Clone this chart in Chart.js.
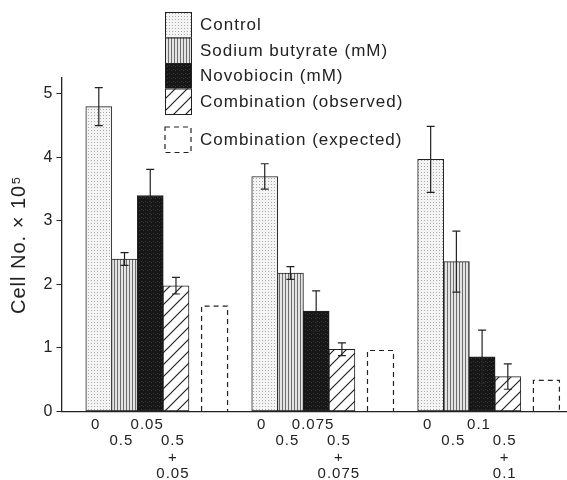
<!DOCTYPE html>
<html>
<head>
<meta charset="utf-8">
<script src="https://cdn.jsdelivr.net/npm/chart.js@4.4.0/dist/chart.umd.min.js"></script>
<style>
	html, body { margin: 0; padding: 0; background: #fff; }
	canvas { display: block; }
</style>
</head>
<body>
<canvas id="chart" width="567" height="480"></canvas>
<script>
// Novobiocin dose per group (mM); butyrate is 0.5 mM throughout
const novobiocinDoses = ['0.05', '0.075', '0.1'];
const butyrateDose = '0.5';
const seriesNames = ['Control', 'Sodium butyrate (mM)', 'Novobiocin (mM)', 'Combination (observed)', 'Combination (expected)'];

const controlValues = [4.8, 3.7, 3.97];
const controlErrors = [0.3, 0.2, 0.52];
const butyrateValues = [2.4, 2.18, 2.36];
const butyrateErrors = [0.1, 0.1, 0.48];
const novobiocinValues = [3.4, 1.58, 0.86];
const novobiocinErrors = [0.41, 0.32, 0.42];
const observedValues = [1.98, 0.98, 0.55];
const observedErrors = [0.13, 0.1, 0.2];
const expectedValues = [1.66, 0.96, 0.49];
const yTicks = [0, 1, 2, 3, 4, 5];

// layout on the linear x scale (1 unit = one bar width)
const groupStep = 6.45;
const slots = [0, 1, 2, 3, 4.5];
const FONT = "'Liberation Sans', Arial, sans-serif";
const INK = '#222';

function makePattern(w, h, draw) {
	const c = document.createElement('canvas');
	c.width = w; c.height = h;
	const g = c.getContext('2d');
	draw(g);
	return g.createPattern(c, 'repeat');
}

const patControl = makePattern(3, 3, g => {
	g.fillStyle = '#f4f4f4'; g.fillRect(0, 0, 3, 3);
	g.fillStyle = '#a9a9a9'; g.fillRect(1, 1, 1, 1);
});
const patButyrate = makePattern(3, 1, g => {
	g.fillStyle = '#e4e4e4'; g.fillRect(0, 0, 3, 1);
	g.fillStyle = '#6e6e6e'; g.fillRect(0, 0, 1, 1);
});
const patNovo = makePattern(4, 4, g => {
	g.fillStyle = '#161616'; g.fillRect(0, 0, 4, 4);
	g.fillStyle = '#3a3a3a'; g.fillRect(1, 1, 1, 1); g.fillRect(3, 2, 1, 1);
});
const patObserved = makePattern(12, 12, g => {
	g.fillStyle = '#fff'; g.fillRect(0, 0, 12, 12);
	g.strokeStyle = INK; g.lineWidth = 1.2;
	g.beginPath();
	g.moveTo(0, 12); g.lineTo(12, 0);
	g.moveTo(-2, 2); g.lineTo(2, -2);
	g.moveTo(10, 14); g.lineTo(14, 10);
	g.stroke();
});
const fills = [patControl, patButyrate, patNovo, patObserved, 'rgba(0,0,0,0)'];

const seriesValues = [controlValues, butyrateValues, novobiocinValues, observedValues, expectedValues];
const seriesErrors = [controlErrors, butyrateErrors, novobiocinErrors, observedErrors, null];

const datasets = seriesNames.map((name, k) => ({
	label: name,
	data: seriesValues[k].map((v, g) => ({ x: g * groupStep + slots[k], y: v })),
	errors: seriesErrors[k],
	dashed: k === 4,
	backgroundColor: fills[k],
	borderColor: INK,
	borderWidth: k === 4 ? 0 : 1,
	borderSkipped: false,
	barThickness: 26,
	grouped: false
}));

// x tick labels sit under control, butyrate, novobiocin and combination bars
const tickPositions = [];
const tickLabels = [];
novobiocinDoses.forEach((dose, g) => {
	const base = g * groupStep - 0.12;
	tickPositions.push(base + slots[0], base + slots[1], base + slots[2], base + slots[3]);
	tickLabels.push(['0'], ['', butyrateDose], [dose], ['', butyrateDose, '+', dose]);
});

const errorBars = {
	id: 'errorBars',
	afterDatasetsDraw(chart) {
		const ctx = chart.ctx;
		const yScale = chart.scales.y;
		chart.data.datasets.forEach((ds, i) => {
			const meta = chart.getDatasetMeta(i);
			meta.data.forEach((bar, j) => {
				ctx.save();
				ctx.strokeStyle = INK;
				if (ds.dashed) {
					// expected combination: dashed outline only
					const left = bar.x - bar.width / 2, right = bar.x + bar.width / 2;
					ctx.lineWidth = 1.2;
					ctx.setLineDash([5, 4]);
					ctx.beginPath();
					ctx.moveTo(left, bar.base);
					ctx.lineTo(left, bar.y);
					ctx.lineTo(right, bar.y);
					ctx.lineTo(right, bar.base);
					ctx.stroke();
				} else if (ds.errors) {
					const v = ds.data[j].y, e = ds.errors[j];
					const top = yScale.getPixelForValue(v + e);
					const bot = yScale.getPixelForValue(v - e);
					ctx.lineWidth = 1.2;
					ctx.beginPath();
					ctx.moveTo(bar.x, top); ctx.lineTo(bar.x, bot);
					ctx.moveTo(bar.x - 4, top); ctx.lineTo(bar.x + 4, top);
					ctx.moveTo(bar.x - 4, bot); ctx.lineTo(bar.x + 4, bot);
					ctx.stroke();
				}
				ctx.restore();
			});
		});
	}
};

const boxLegend = {
	id: 'boxLegend',
	afterDraw(chart) {
		const ctx = chart.ctx;
		const x = 165, w = 27, h = 25.5;
		ctx.save();
		ctx.font = `17px ${FONT}`;
		ctx.textBaseline = 'middle';
		ctx.fillStyle = INK;
		chart.data.datasets.forEach((ds, k) => {
			let top = 12 + k * h;
			if (ds.dashed) {
				top = 127;
				ctx.setLineDash([5, 4]);
				ctx.strokeStyle = INK;
				ctx.lineWidth = 1.2;
				ctx.strokeRect(x, top, w - 1, h);
				ctx.setLineDash([]);
			} else {
				ctx.fillStyle = ds.backgroundColor;
				ctx.fillRect(x, top, w, h);
				ctx.strokeStyle = INK;
				ctx.lineWidth = 1;
				ctx.strokeRect(x + 0.5, top + 0.5, w - 1, h);
			}
			ctx.fillStyle = INK;
			ctx.fillText(ds.label, 200, top + h / 2 + 1);
		});
		ctx.restore();
	}
};

const spacing = {
	id: 'spacing',
	beforeDraw(chart) {
		chart.ctx.letterSpacing = '1px';
	}
};

new Chart(document.getElementById('chart'), {
	type: 'bar',
	data: { datasets },
	options: {
		responsive: false,
		animation: false,
		layout: { padding: { top: 78, right: 0, bottom: 0, left: 0 } },
		plugins: {
			legend: { display: false },
			tooltip: { enabled: false }
		},
		scales: {
			x: {
				type: 'linear',
				offset: false,
				min: -1.45,
				max: 18.2,
				afterBuildTicks: scale => { scale.ticks = tickPositions.map(v => ({ value: v })); },
				afterFit: scale => { scale.height = 68.5; },
				grid: { display: false, drawTicks: false },
				border: { color: INK, width: 1.3 },
				ticks: {
					autoSkip: false,
					maxRotation: 0,
					padding: 5,
					color: INK,
					font: { family: FONT, size: 15, lineHeight: 1.1 },
					callback: (value, index) => tickLabels[index]
				}
			},
			y: {
				min: 0,
				max: 5.25,
				afterBuildTicks: scale => { scale.ticks = yTicks.map(v => ({ value: v })); },
				afterFit: scale => { scale.width = 61.5; },
				grid: { drawOnChartArea: false, drawTicks: true, tickLength: 5, color: INK },
				border: { color: INK, width: 1.3 },
				ticks: {
					padding: 3,
					color: INK,
					font: { family: FONT, size: 16 }
				},
				title: {
					display: true,
					text: 'Cell No. × 10⁵',
					color: INK,
					padding: { top: 7, bottom: 0 },
					font: { family: FONT, size: 20 }
				}
			}
		}
	},
	plugins: [spacing, errorBars, boxLegend]
});
</script>
</body>
</html>
